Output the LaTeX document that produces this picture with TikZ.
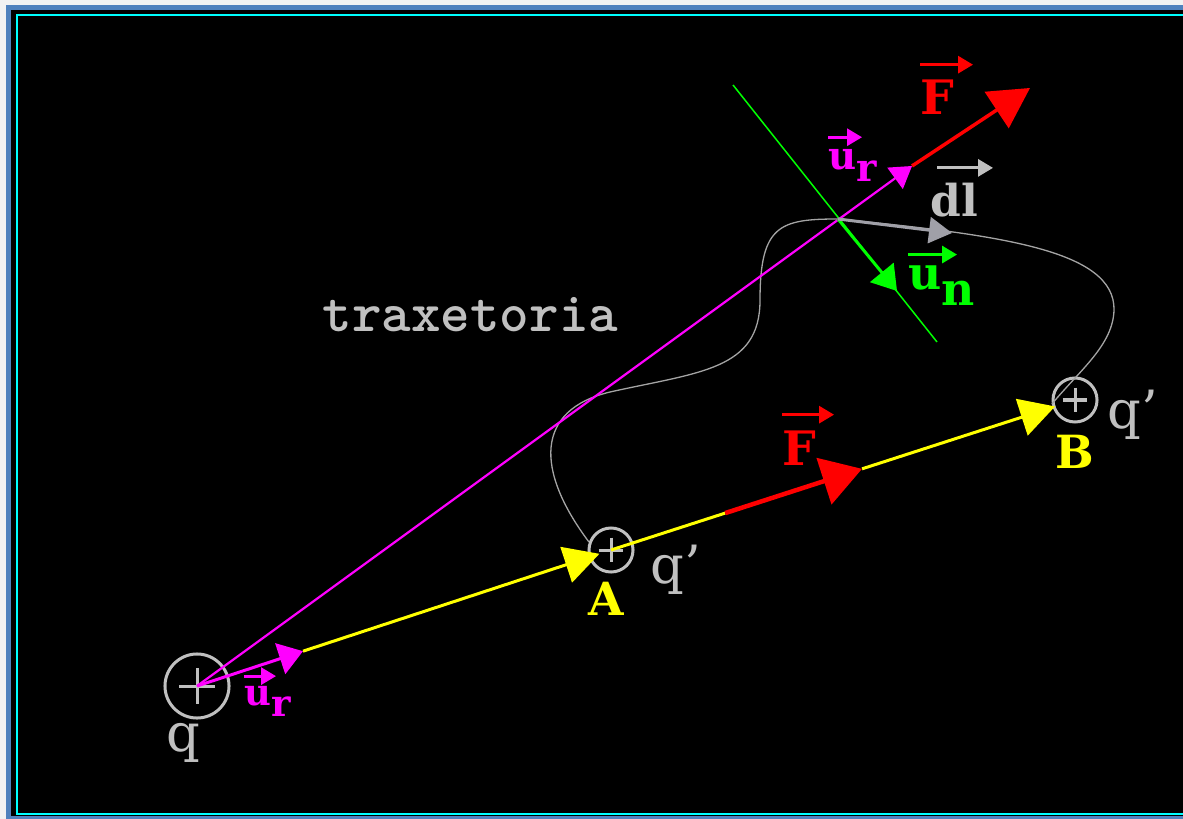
\documentclass[tikz,border=0pt]{standalone}
\usepackage{fontspec}
\setmainfont{DejaVu Serif}
\usepackage{tikz}
\usetikzlibrary{arrows.meta, positioning, calc}

\definecolor{frameblue}{HTML}{4F81BD}
\definecolor{framecyan}{RGB}{0,255,255}
\definecolor{lgray}{HTML}{C0C0C0}
\definecolor{dgray}{HTML}{A0A0A8}
\definecolor{pathgray}{HTML}{A4A4A4}
\definecolor{mag}{RGB}{255,0,255}
\definecolor{yel}{RGB}{255,255,0}
\definecolor{grn}{RGB}{0,255,0}
\definecolor{rd}{RGB}{255,0,0}

\begin{document}
\begin{tikzpicture}[x=0.01cm, y=-0.01cm,
    charge/.style={circle, draw=lgray, line width=0.03cm, inner sep=0pt, minimum size=#1,
      path picture={\draw[lgray, line width=0.03cm]
        ($(path picture bounding box.west)!0.22!(path picture bounding box.east)$) -- ($(path picture bounding box.west)!0.78!(path picture bounding box.east)$)
        ($(path picture bounding box.north)!0.22!(path picture bounding box.south)$) -- ($(path picture bounding box.north)!0.78!(path picture bounding box.south)$);}},
    lbl/.style={inner sep=0pt, anchor=base west},
    vecar/.style={-{Triangle[length=0.15cm, width=0.17cm]}, line width=0.03cm},
    traj/.style={draw=pathgray, line width=0.013cm},
    radial/.style={mag, line width=0.022cm},
    field/.style={yel, line width=0.03cm},
    force/.style={rd, line width=0.045cm}
]
\useasboundingbox (0,0) rectangle (1183,819);
\clip (0,0) rectangle (1183,819);
\fill[black!5] (0,0) rectangle (1183,819);
\fill[frameblue] (6,5) rectangle (1200,830);
\fill[black] (11,10) rectangle (1200,816);
\draw[framecyan, line width=0.025cm] (17,15) rectangle (1200,814);

\node[charge=0.64cm] (q) at (197,686) {};
\node[charge=0.44cm] (A) at (611,550) {};
\node[charge=0.44cm] (B) at (1075,400) {};

\coordinate (P) at (838,219);
\coordinate (urtip) at ($(q)!0.256!(A)$);
\coordinate (Atip) at ($(q)!0.972!(A)$);
\coordinate (Fstart) at ($(A)!0.246!(B)$);
\coordinate (Ftip) at ($(A)!0.541!(B)$);
\coordinate (Btip) at ($(A)!0.957!(B)$);
\coordinate (urtop) at (912,166);
\coordinate (Ftop) at (1030,88);
\coordinate (n1) at (733,85);
\coordinate (n2) at (937,342);
\coordinate (untip) at (897,291);
\coordinate (dltip) at (952,233);

\draw[traj] (A.160) .. controls (535,470) and (535,410) .. (610,392)
  .. controls (700,372) and (760,370) .. (760,300)
  .. controls (760,225) and (780,219) .. (P)
  .. controls (1000,235) and (1115,250) .. (1114,310)
  .. controls (1113,345) and (1080,370) .. (B.190);

\draw[grn, line width=0.015cm] (n1) -- (n2);
\draw[radial, -{Triangle[length=0.21cm, width=0.26cm]}] (q.center) -- (urtop);
\draw[force, line width=0.035cm, -{Triangle[length=0.4cm, width=0.43cm]}] (urtop) -- (Ftop);
\draw[grn, line width=0.03cm, -{Triangle[length=0.24cm, width=0.3cm]}] (P) -- (untip);
\draw[dgray, line width=0.03cm, -{Triangle[length=0.23cm, width=0.26cm]}] (P) -- (dltip);

\draw[field, -{Triangle[length=0.35cm, width=0.37cm]}] (urtip) -- (Atip);
\draw[mag, line width=0.03cm, -{Triangle[length=0.24cm, width=0.32cm]}] (q.center) -- (urtip);
\draw[field] (A.center) -- (Fstart);
\draw[force, -{Triangle[length=0.4cm, width=0.48cm]}] (Fstart) -- (Ftip);
\draw[field, -{Triangle[length=0.35cm, width=0.38cm]}] (Ftip) -- (Btip);

\node[lbl, lgray, font=\fontsize{15}{17}\selectfont] (qlbl) at (166,751) {q};
\node[lbl, lgray, font=\fontsize{15}{17}\selectfont] (qA) at (650,583) {q'};
\node[lbl, lgray, font=\fontsize{15}{17}\selectfont] (qB) at (1107,429) {q'};
\node[lbl, yel, font=\fontsize{13}{15}\selectfont\bfseries] (Albl) at (588,615) {A};
\node[lbl, yel, font=\fontsize{13}{15}\selectfont\bfseries] (Blbl) at (1055,468) {B};
\node[lbl, lgray, font=\fontsize{16}{18}\selectfont\ttfamily\bfseries] (traj) at (322,332) {traxetoria};

\node[lbl, rd, font=\fontsize{13.5}{15}\selectfont\bfseries] (F1) at (920,115) {F};
\node[lbl, rd, font=\fontsize{13.5}{15}\selectfont\bfseries] (F2) at (782,465) {F};
\node[lbl, mag, font=\fontsize{11}{13}\selectfont\bfseries] (ur1) at (828,170) {u\raisebox{-0.3em}{r}};
\node[lbl, mag, font=\fontsize{10.5}{12}\selectfont\bfseries] (ur2) at (244,705) {u\raisebox{-0.3em}{r}};
\node[lbl, grn, font=\fontsize{13}{15}\selectfont\bfseries] (un) at (908,290) {u\raisebox{-0.35em}{n}};
\node[lbl, lgray, font=\fontsize{12.5}{15}\selectfont\bfseries] (dl) at (930,217) {dl};

\draw[vecar, rd] ([yshift=0.15cm]F1.north west) -- ++(0.53cm,0);
\draw[vecar, rd] ([yshift=0.15cm]F2.north west) -- ++(0.52cm,0);
\draw[vecar, mag] ([yshift=0.12cm]ur1.north west) -- ++(0.34cm,0);
\draw[vecar, mag] ([yshift=0.09cm]ur2.north west) -- ++(0.32cm,0);
\draw[vecar, grn] ([yshift=0.11cm]un.north west) -- ++(0.49cm,0);
\draw[vecar, lgray] ([yshift=0.15cm,xshift=0.07cm]dl.north west) -- ++(0.56cm,0);
\end{tikzpicture}
\end{document}
